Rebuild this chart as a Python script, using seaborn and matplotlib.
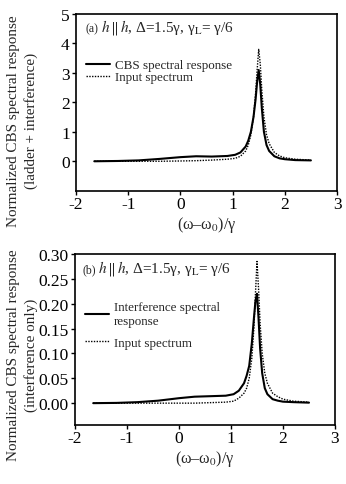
import numpy as np
import pandas as pd
import matplotlib
matplotlib.use("Agg")
import matplotlib.pyplot as plt
import seaborn as sns

sns.set_theme(style="ticks")
plt.rcParams['font.family'] = ['Liberation Serif', 'DejaVu Serif']
plt.rcParams['mathtext.fontset'] = 'stix'
plt.rcParams['axes.unicode_minus'] = False

# ---- data ----
x = [-1.65, -1.2, -0.8, -0.4, 0.0, 0.3, 0.6, 0.9, 1.05, 1.15, 1.25, 1.3, 1.35, 1.4,
     1.44, 1.47, 1.5, 1.53, 1.56, 1.6, 1.65, 1.7, 1.8, 1.9, 2.0, 2.2, 2.5]
cbs_total = [0.0, 0.01, 0.03, 0.08, 0.14, 0.17, 0.16, 0.18, 0.22, 0.3, 0.5, 0.7, 1.0, 1.5,
             2.1, 2.7, 3.1, 2.6, 1.8, 1.0, 0.55, 0.35, 0.17, 0.1, 0.07, 0.04, 0.03]
input_a = [0.0, 0.0, 0.0, 0.0, 0.01, 0.02, 0.04, 0.07, 0.1, 0.17, 0.35, 0.55, 0.9, 1.5,
           2.3, 3.1, 3.8, 3.3, 2.4, 1.5, 0.9, 0.6, 0.3, 0.18, 0.12, 0.07, 0.04]
interf = [0.0, 0.0005, 0.002, 0.005, 0.01, 0.013, 0.014, 0.015, 0.018, 0.025, 0.04, 0.055,
          0.075, 0.12, 0.17, 0.205, 0.22, 0.17, 0.11, 0.06, 0.03, 0.018, 0.008, 0.005,
          0.003, 0.002, 0.001]
input_b = [0.0, 0.0, 0.0, 0.0, 0.0, 0.0, 0.001, 0.002, 0.004, 0.01, 0.02, 0.03, 0.05, 0.09,
           0.15, 0.22, 0.285, 0.23, 0.16, 0.1, 0.06, 0.04, 0.02, 0.013, 0.008, 0.004, 0.002]

xticks = [-2, -1, 0, 1, 2, 3]
yticks_a = [0, 1, 2, 3, 4, 5]
yticks_b = [0.00, 0.05, 0.10, 0.15, 0.20, 0.25, 0.30]

fig = plt.figure(figsize=(3.46, 4.85), dpi=100)
ax1 = fig.add_axes([0.2197, 0.6047, 0.7543, 0.3643])
ax2 = fig.add_axes([0.2168, 0.1216, 0.7514, 0.3526])

dotted = (0, (1, 1))
annot = r"$h\,\|\,h$, Δ=1.5γ, γ$_{\rm L}$= γ/6"

def style(ax, yticks, fmt):
    ax.set_xlim(-2, 3)
    ax.set_xticks(xticks)
    ax.set_yticks(yticks)
    ax.set_yticklabels([fmt.format(v) for v in yticks])
    ax.set_xticklabels([str(v) for v in xticks])
    ax.tick_params(direction='out', length=3, width=1, labelsize=12.5, pad=1.5,
                   colors='black', top=False, right=False)
    ax.tick_params(axis='x', pad=0.5)
    for s in ax.spines.values():
        s.set_linewidth(1.2)
        s.set_color('black')
    ax.set_facecolor('white')
    ax.set_xlabel(r"(ω–ω$_0$)/γ", fontsize=11.5, labelpad=1.5)
    ax.set_ylabel("")

# panel a
dfa = pd.DataFrame({'x': x, 'CBS spectral response': cbs_total, 'Input spectrum': input_a})
sns.lineplot(data=dfa, x='x', y='CBS spectral response', ax=ax1, color='black',
             linewidth=1.5, label='CBS spectral response')
sns.lineplot(data=dfa, x='x', y='Input spectrum', ax=ax1, color='black',
             linewidth=1.0, linestyle=dotted, label='Input spectrum')
ax1.set_ylim(-1, 5)
style(ax1, yticks_a, "{:d}")
ax1.legend(loc='upper left', bbox_to_anchor=(0.02, 0.775), frameon=False, fontsize=9.4,
           handlelength=1.8, handletextpad=0.4, labelspacing=0.0, borderaxespad=0)
ax1.text(0.038, 0.905, "(a)", transform=ax1.transAxes, fontsize=8.5, va='baseline')
ax1.text(0.094, 0.905, annot, transform=ax1.transAxes, fontsize=11, va='baseline')
fig.text(0.065, 0.7505, "Normalized CBS spectral response\n(ladder + interference)",
         rotation=90, ha='center', va='center', multialignment='center',
         fontsize=10.9, linespacing=1.3)

# panel b
dfb = pd.DataFrame({'x': x, 'Interference': interf, 'Input spectrum': input_b})
sns.lineplot(data=dfb, x='x', y='Interference', ax=ax2, color='black',
             linewidth=1.5, label='Interference spectral\nresponse')
sns.lineplot(data=dfb, x='x', y='Input spectrum', ax=ax2, color='black',
             linewidth=1.0, linestyle=dotted, label='Input spectrum')
ax2.set_ylim(-0.044, 0.30)
style(ax2, yticks_b, "{:.2f}")
ax2.legend(loc='upper left', bbox_to_anchor=(0.02, 0.755), frameon=False, fontsize=9.4,
           handlelength=1.8, handletextpad=0.4, labelspacing=0.75, borderaxespad=0)
ax2.text(0.03, 0.895, "(b)", transform=ax2.transAxes, fontsize=8.5, va='baseline')
ax2.text(0.088, 0.895, annot, transform=ax2.transAxes, fontsize=11, va='baseline')
fig.text(0.065, 0.268, "Normalized CBS spectral response\n(interference only)",
         rotation=90, ha='center', va='center', multialignment='center',
         fontsize=10.9, linespacing=1.3)

fig.savefig("out.png", dpi=100, facecolor='white')
